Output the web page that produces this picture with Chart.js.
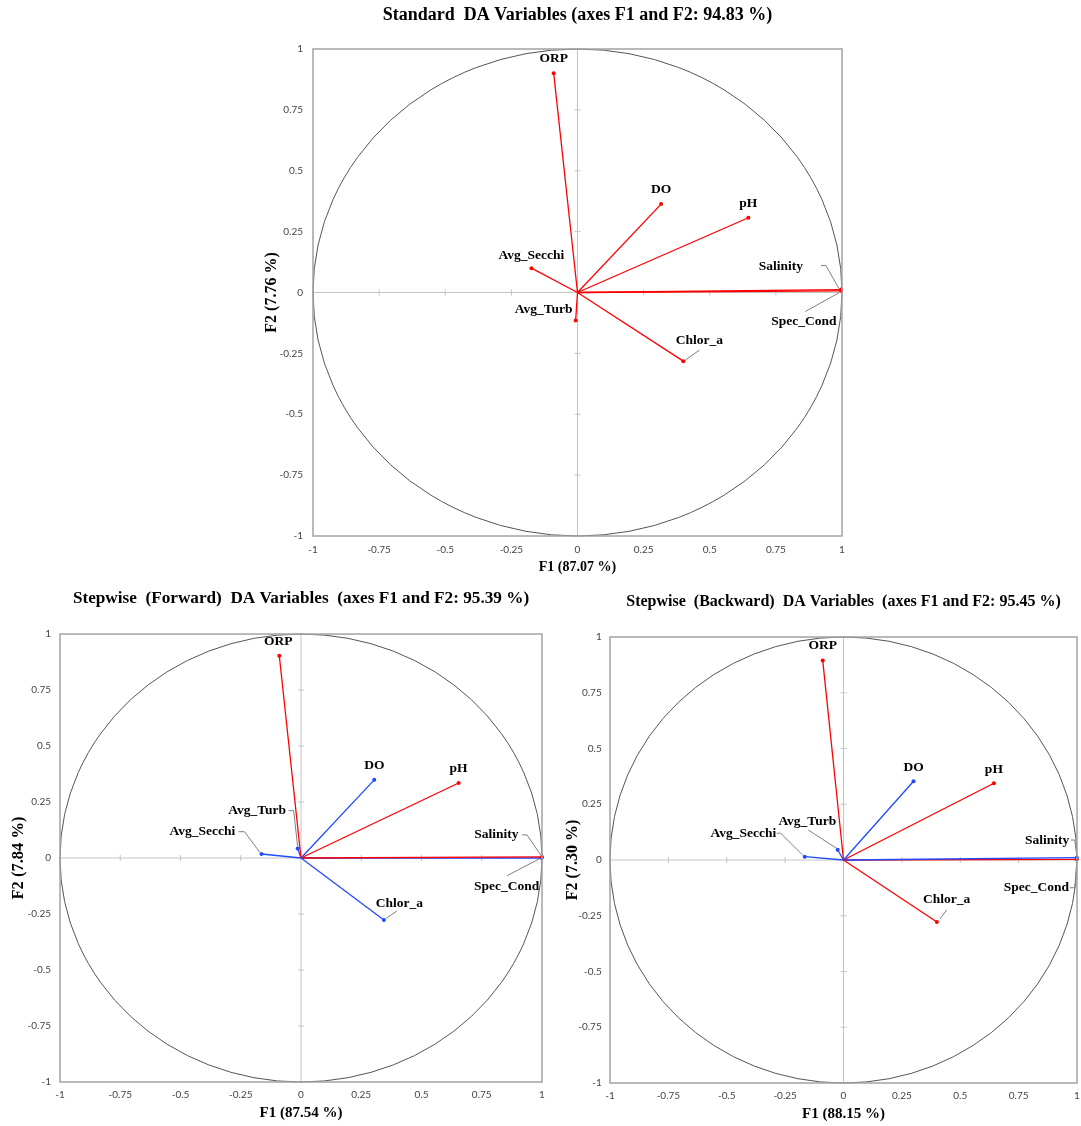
<!DOCTYPE html>
<html>
<head>
<meta charset="utf-8">
<title>DA Variables</title>
<script src="https://cdn.jsdelivr.net/npm/chart.js@4.4.1/dist/chart.umd.min.js"></script>
<style>
    html, body { margin: 0; padding: 0; background: #fff; overflow: hidden; }
    body { width: 1081px; height: 1126px; position: relative; }
    canvas { position: absolute; }
</style>
</head>
<body>
<canvas id="stdChart" width="630" height="580" style="left:255px;top:0px"></canvas>
<canvas id="fwdChart" width="594" height="546" style="left:0px;top:580px"></canvas>
<canvas id="bwdChart" width="521" height="546" style="left:560px;top:580px"></canvas>
<script>
// variables and their loadings on F1 / F2
const varNames = ["ORP", "DO", "pH", "Avg_Secchi", "Avg_Turb", "Chlor_a", "Salinity", "Spec_Cond"];

const stdF1 = [-0.09, 0.316, 0.646, -0.174, -0.007, 0.40, 0.996, 0.996];
const stdF2 = [0.90, 0.363, 0.307, 0.10, -0.115, -0.282, 0.012, 0.007];

const fwdF1 = [-0.09, 0.304, 0.654, -0.164, -0.014, 0.344, 1.0, 0.998];
const fwdF2 = [0.903, 0.349, 0.335, 0.018, 0.043, -0.277, 0.005, 0.0];

const bwdF1 = [-0.089, 0.30, 0.644, -0.166, -0.025, 0.40, 0.999, 0.999];
const bwdF2 = [0.895, 0.353, 0.344, 0.015, 0.046, -0.278, 0.011, 0.003];

const tickValues = [-1, -0.75, -0.5, -0.25, 0, 0.25, 0.5, 0.75, 1];
const tickLabels = ["-1", "-0.75", "-0.5", "-0.25", "0", "0.25", "0.5", "0.75", "1"];

// styling
const RED = "#ff0000";
const BLUE = "#1f4bff";
const SERIF = "'Liberation Serif', 'Times New Roman', serif";

const stdColors = [RED, RED, RED, RED, RED, RED, RED, RED];
const fwdColors = [RED, BLUE, RED, BLUE, BLUE, BLUE, RED, BLUE];
const bwdColors = [RED, BLUE, RED, BLUE, BLUE, RED, BLUE, RED];

// label placement relative to the end point (px), and leader lines
const stdOffsets = [[0, -15], [0, -14.5], [0, -14], [0, -13], [-32, -10.5], [16, -21], [-60, -23], [-37, 31]];
const stdLeaders = [null, null, null, null, null,
    [[16, -11], [2, -1]],
    [[-20, -24], [-15, -24], [-2, -1]],
    [[-35.5, 20.7], [-2, 2]]];

const fwdOffsets = [[-1, -14], [0, -14], [0, -14.3], [-59, -22.3], [-40.6, -37.7], [15.4, -16.7], [-45.6, -22], [-35, 28.7]];
const fwdLeaders = [null, null, null,
    [[-23, -22.3], [-17, -22.3], [-1.5, -1.5]],
    [[-9, -37.7], [-4, -37.7], [0, -2]],
    [[13, -9], [2, -1.5]],
    [[-20, -22], [-15, -22], [-1, -1.5]],
    [[-34.5, 17.7], [-2.5, 1]]];

const bwdOffsets = [[0, -14.5], [0, -13.5], [0, -14], [-61.4, -23.4], [-30.4, -28.7], [9.8, -22], [-29.7, -17.5], [-40.3, 28.4]];
const bwdLeaders = [null, null, null,
    [[-28, -23.4], [-24, -23.4], [-1.5, -1]],
    [[-29.4, -19.7], [-1, -1.4]],
    [[9.8, -12], [3, -3]],
    [[-6, -17.5], [-2, -17.5], [0, -2]],
    [[-7, 28.4], [-2, 28.4], [0, 2]]];

// circle of correlations, zero axes, frame, variable labels
const biplot = {
    id: "biplot",
    beforeDatasetsDraw(chart) {
        const { ctx, chartArea: a, scales: { x, y } } = chart;
        const cx = x.getPixelForValue(0);
        const cy = y.getPixelForValue(0);
        ctx.save();
        ctx.strokeStyle = "#c4c4c4";
        ctx.lineWidth = 1;
        ctx.beginPath();
        ctx.moveTo(a.left, cy); ctx.lineTo(a.right, cy);
        ctx.moveTo(cx, a.top); ctx.lineTo(cx, a.bottom);
        tickValues.forEach(v => {
            if (v === 0 || Math.abs(v) === 1) return;
            const px = x.getPixelForValue(v);
            const py = y.getPixelForValue(v);
            ctx.moveTo(px, cy - 3); ctx.lineTo(px, cy + 3);
            ctx.moveTo(cx - 3, py); ctx.lineTo(cx + 3, py);
        });
        ctx.stroke();

        ctx.strokeStyle = "#555555";
        ctx.beginPath();
        ctx.ellipse(cx, cy, x.getPixelForValue(1) - cx, cy - y.getPixelForValue(1), 0, 0, Math.PI * 2);
        ctx.stroke();
        ctx.restore();
    },
    afterDatasetsDraw(chart, args, opts) {
        const ctx = chart.ctx;
        ctx.save();
        chart.data.datasets.forEach((ds, i) => {
            const pt = chart.getDatasetMeta(i).data[1];
            const lead = opts.leaders[i];
            if (lead) {
                ctx.strokeStyle = "#7f7f7f";
                ctx.lineWidth = 1;
                ctx.beginPath();
                lead.forEach((d, k) => {
                    if (k === 0) ctx.moveTo(pt.x + d[0], pt.y + d[1]);
                    else ctx.lineTo(pt.x + d[0], pt.y + d[1]);
                });
                ctx.stroke();
            }
            const off = opts.offsets[i];
            ctx.fillStyle = "#000";
            ctx.font = "bold 13.5px " + SERIF;
            ctx.textAlign = "center";
            ctx.textBaseline = "middle";
            ctx.fillText(ds.label, pt.x + off[0], pt.y + off[1]);
        });
        ctx.restore();
    },
    afterDraw(chart) {
        const { ctx, chartArea: a } = chart;
        ctx.save();
        ctx.strokeStyle = "#a3a3a3";
        ctx.lineWidth = 1.5;
        ctx.strokeRect(a.left, a.top, a.right - a.left, a.bottom - a.top);
        ctx.restore();
    }
};

function axisOpts(isX, p) {
    return {
        type: "linear",
        min: -1,
        max: 1,
        afterBuildTicks: s => { s.ticks = tickValues.map(v => ({ value: v })); },
        ticks: {
            callback: (v, i) => tickLabels[i],
            color: "#444444",
            font: { family: "Lato", size: 10 },
            padding: isX ? p.xTickPad : p.yTickPad,
            autoSkip: false,
            maxRotation: 0
        },
        grid: { display: false, drawTicks: false },
        border: { display: false },
        title: {
            display: true,
            text: isX ? p.xTitle : p.yTitle,
            color: "#000",
            font: { family: SERIF, weight: "bold", size: isX ? p.xTitleSize : p.yTitleSize },
            padding: isX ? { top: 0, bottom: p.xTitlePad } : { top: p.yTitlePad, bottom: 0 }
        },
        afterFit: s => {
            if (isX) s.height = p.xAxisH;
            else s.width = p.yAxisW;
            s.paddingLeft = 0; s.paddingRight = 0; s.paddingTop = 0; s.paddingBottom = 0;
        }
    };
}

function buildChart(id, p) {
    const datasets = varNames.map((name, i) => ({
        label: name,
        data: [{ x: 0, y: 0 }, { x: p.f1[i], y: p.f2[i] }],
        showLine: true,
        borderColor: p.colors[i],
        backgroundColor: p.colors[i],
        borderWidth: 1.3,
        pointRadius: [0, 2],
        pointBorderWidth: 0,
        pointHoverRadius: 0,
        clip: false
    }));
    return new Chart(document.getElementById(id), {
        type: "scatter",
        data: { datasets },
        options: {
            responsive: false,
            animation: false,
            events: [],
            layout: { padding: { right: p.padRight } },
            plugins: {
                legend: { display: false },
                tooltip: { enabled: false },
                title: {
                    display: true,
                    text: p.title,
                    fullSize: false,
                    color: "#000",
                    font: { family: SERIF, size: p.titleSize, weight: "bold" },
                    padding: { top: p.titlePad[0], bottom: p.titlePad[1] }
                },
                biplot: { offsets: p.offsets, leaders: p.leaders }
            },
            scales: { x: axisOpts(true, p), y: axisOpts(false, p) }
        },
        plugins: [biplot]
    });
}

buildChart("stdChart", {
    f1: stdF1, f2: stdF2, colors: stdColors, offsets: stdOffsets, leaders: stdLeaders,
    title: "Standard  DA Variables (axes F1 and F2: 94.83 %)", titleSize: 18, titlePad: [4.2, 23.2],
    xTitle: "F1 (87.07 %)", xTitleSize: 14, xTitlePad: 4.3,
    yTitle: "F2 (7.76 %)", yTitleSize: 16, yTitlePad: 6.9,
    padRight: 43, yAxisW: 58, xAxisH: 44, xTickPad: 8, yTickPad: 10
});

buildChart("fwdChart", {
    f1: fwdF1, f2: fwdF2, colors: fwdColors, offsets: fwdOffsets, leaders: fwdLeaders,
    title: "Stepwise  (Forward)  DA Variables  (axes F1 and F2: 95.39 %)", titleSize: 17.2, titlePad: [8, 25.4],
    xTitle: "F1 (87.54 %)", xTitleSize: 15, xTitlePad: 4,
    yTitle: "F2 (7.84 %)", yTitleSize: 16.5, yTitlePad: 8.7,
    padRight: 52, yAxisW: 60, xAxisH: 44, xTickPad: 7, yTickPad: 9
});

buildChart("bwdChart", {
    f1: bwdF1, f2: bwdF2, colors: bwdColors, offsets: bwdOffsets, leaders: bwdLeaders,
    title: "Stepwise  (Backward)  DA Variables  (axes F1 and F2: 95.45 %)", titleSize: 16, titlePad: [12.7, 25.1],
    xTitle: "F1 (88.15 %)", xTitleSize: 15, xTitlePad: 3,
    yTitle: "F2 (7.30 %)", yTitleSize: 16, yTitlePad: 3.1,
    padRight: 4, yAxisW: 50, xAxisH: 43, xTickPad: 7, yTickPad: 8.3
});
</script>
</body>
</html>
